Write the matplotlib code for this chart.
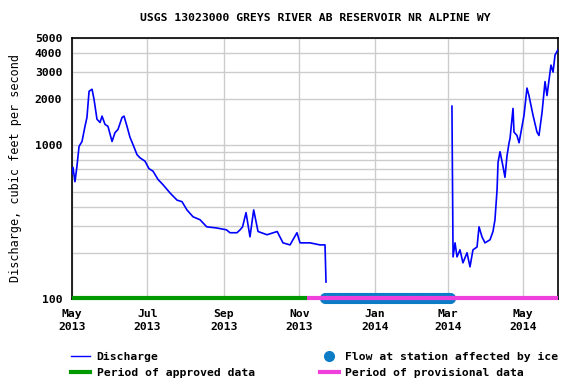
import datetime as dt
import matplotlib
matplotlib.use("Agg")
import matplotlib.pyplot as plt
from matplotlib.lines import Line2D
from matplotlib.ticker import FixedLocator, NullFormatter

# discharge (days since 2013-05-01, cfs)
days_a = [0, 0.8, 2.4, 4, 5.7, 8.1, 10.5, 12.1, 13.8, 16.2, 17.8, 20.2, 22.7, 24.3,
          26.7, 29.1, 32.4, 34.8, 37.2, 40.5, 42.1, 44.5, 46.9, 49.4, 52.6, 55, 59,
          62.3, 65.5, 69.6, 73.6, 79.3, 85, 89, 93, 97.9, 103.6, 109, 117, 125,
          127.8, 133.5, 136, 138, 140.8, 144, 147, 150.5, 157.8, 166, 170.7,
          176.4, 182, 184.5, 192.6, 200.6, 204.7, 205.5]
flow_a = [650, 720, 580, 730, 985, 1060, 1330, 1520, 2250, 2320, 2000, 1480, 1410,
          1550, 1370, 1330, 1060, 1210, 1270, 1520, 1550, 1330, 1130, 1010, 870, 830,
          790, 705, 680, 600, 555, 490, 440, 430, 380, 343, 328, 295, 290, 282,
          270, 270, 282, 295, 365, 254, 380, 275, 262, 275, 232, 225, 270, 232,
          232, 225, 225, 129]
days_b = [307.4, 307.6, 308.3, 309.9, 311.5, 313.9, 316.3, 319.6, 322, 324.4, 327.7,
          329.3, 331.7, 334.1, 338.2, 340.6, 342.2, 343.9, 344.7, 346.3, 348.7, 350.3,
          351.9, 353.6, 354.4, 356.8, 357.6, 360, 361.7, 365.7, 368.1, 369.7, 373,
          376.2, 377.8, 380.3, 382.7, 384.3, 387.5, 389.2, 390.8, 393.2]
flow_b = [1800, 1060, 188, 232, 188, 209, 172, 200, 162, 209, 218, 295, 254, 232,
          243, 275, 328, 515, 775, 910, 730, 620, 850, 1040, 1110, 1740, 1220, 1160,
          1040, 1570, 2360, 2110, 1570, 1220, 1160, 1640, 2600, 2110, 3330, 3000, 3870,
          4200]

# periods (days since 2013-05-01)
approved = (0, 190)
provisional = (190, 393.2)
ice_start, ice_end = 205, 306

y_ticks = [100, 1000, 2000, 3000, 4000, 5000]
x_ticks = ["2013-05-01", "2013-07-01", "2013-09-01", "2013-11-01",
           "2014-01-01", "2014-03-01", "2014-05-01"]

start = dt.datetime(2013, 5, 1)
def d(n):
    return start + dt.timedelta(days=n)

font = "DejaVu Sans Mono"
plt.rcParams["font.family"] = font
plt.rcParams["font.weight"] = "bold"
plt.rcParams["font.size"] = 8.2

fig = plt.figure(figsize=(5.76, 3.84), dpi=100)
ax = fig.add_axes([72/576, 1-299/384, (558-72)/576, (299-38)/384])

ax.set_yscale("log")
ax.set_ylim(100, 5000)
ax.set_xlim(d(0), d(393.2))

grid_y = list(range(100, 1000, 100)) + [1000, 2000, 3000, 4000, 5000]
for v in grid_y:
    ax.axhline(v, color="#cccccc", lw=1, zorder=0)
xt = [dt.datetime.strptime(t, "%Y-%m-%d") for t in x_ticks]
for t in xt:
    ax.axvline(t, color="#cccccc", lw=1, zorder=0)

ax.yaxis.set_major_locator(FixedLocator(y_ticks))
ax.yaxis.set_minor_locator(FixedLocator([]))
ax.yaxis.set_minor_formatter(NullFormatter())
ax.set_yticklabels([str(v) for v in y_ticks])
ax.set_xticks(xt)
ax.set_xticklabels([t.strftime("%b\n%Y") for t in xt], linespacing=1.45)
ax.tick_params(axis="x", length=0, pad=7)
ax.tick_params(axis="y", length=0, pad=7)

ax.plot([d(n) for n in days_a], flow_a, color="#0000ff", lw=1.2, zorder=3)
ax.plot([d(n) for n in days_b], flow_b, color="#0000ff", lw=1.2, zorder=3)

ice_days = list(range(ice_start, ice_end + 1))
ax.plot([d(n) for n in ice_days], [102] * len(ice_days), "o", ms=7,
        color="#0c7cc6", mec="#0c7cc6", zorder=4, clip_on=False)
ax.plot([d(approved[0]), d(approved[1])], [102, 102], color="#009900", lw=3,
        zorder=5, clip_on=False, solid_capstyle="butt")
ax.plot([d(provisional[0]), d(provisional[1])], [102, 102], color="#f040dc", lw=3,
        zorder=5, clip_on=False, solid_capstyle="butt")

for s in ax.spines.values():
    s.set_linewidth(1.2)

ax.set_ylabel("Discharge, cubic feet per second", labelpad=9, fontsize=8.5)
fig.text(315/576, 1-18/384, "USGS 13023000 GREYS RIVER AB RESERVOIR NR ALPINE WY",
         ha="center", va="center")

handles = [Line2D([], [], color="#0000ff", lw=1),
           Line2D([], [], color="#009900", lw=3),
           Line2D([], [], color="#0c7cc6", marker="o", ls="none", ms=7),
           Line2D([], [], color="#f040dc", lw=3)]
labels = ["Discharge", "Period of approved data",
          "Flow at station affected by ice", "Period of provisional data"]
fig.legend(handles, labels, ncol=2, loc="upper left", frameon=False,
           bbox_to_anchor=(71/576, 1-352/384), borderpad=0, borderaxespad=0,
           handlelength=1.7, handletextpad=0.55, labelspacing=0.55,
           columnspacing=5.7)

fig.savefig("out.png", dpi=100)
